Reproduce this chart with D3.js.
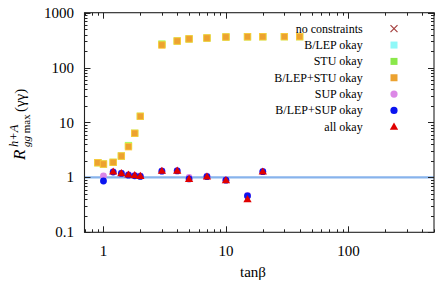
<!DOCTYPE html>
<html><head><meta charset="utf-8">
<script src="https://cdn.jsdelivr.net/npm/d3@7"></script>
<style>body{margin:0;background:#fff}svg{display:block}</style>
</head><body><svg id="c" width="435" height="282" font-family="'Liberation Serif', 'DejaVu Serif', serif"></svg>
<script>
// ---- data ----
const tanB = [0.9, 1, 1.2, 1.4, 1.6, 1.8, 2, 3, 4, 5, 7, 10, 15, 20, 30, 40];
const blepStu = [1.85, 1.75, 1.88, 2.45, 3.62, 6.36, 12.97, 258, 305, 333, 346, 361, 364, 365, 366, 366];
const stu = [1.85, 1.75, 1.88, 2.45, 3.8, 6.36, 12.97, 268, 305, 333, 346, 361, 364, 365, 366, 366];
const tanBSup = [1, 1.2, 1.4, 1.6, 1.8, 2, 3, 4, 5, 7, 10, 15, 20];
const sup = [1.06, 1.27, 1.2, 1.12, 1.09, 1.06, 1.32, 1.33, 1.0, 1.05, 0.9, 0.47, 1.28];
const blepSup = [0.86, 1.25, 1.18, 1.1, 1.07, 1.04, 1.3, 1.31, 0.94, 1.03, 0.89, 0.46, 1.27];
const tanBAll = [1.2, 1.4, 1.6, 1.8, 2, 3, 4, 5, 7, 10, 15, 20];
const allOk = [1.27, 1.19, 1.12, 1.09, 1.06, 1.31, 1.32, 0.935, 1.03, 0.886, 0.40, 1.27];
const refLine = 1;
const xTickLabels = [1, 10, 100];
const yTickLabels = [0.1, 1, 10, 100, 1000];
const legendLabels = ["no constraints", "B/LEP okay", "STU okay", "B/LEP+STU okay", "SUP okay", "B/LEP+SUP okay", "all okay"];

// ---- layout ----
const svg = d3.select("#c");
const L = 84.5, R = 434, T = 12.7, B = 232.3;
const x = d3.scaleLog().domain([0.7, 500]).range([L, R]);
const y = d3.scaleLog().domain([0.1, 1000]).range([B, T]);

const colors = {nc: "#a5403f", blep: "#8ff8f8", stu: "#8ae84a", blepStu: "#eca230", sup: "#dc88e6", blepSup: "#0a14f0", all: "#e00000"};

const xMinor = [];
[0.1, 1, 10, 100].forEach(d => { for (let k = 1; k <= 9; k++) { const v = d * k; if (v >= 0.7 && v <= 500) xMinor.push(v); } });
const yMinor = [];
[0.1, 1, 10, 100].forEach(d => { for (let k = 2; k <= 9; k++) yMinor.push(d * k); });

const g = svg.append("g");
g.append("line").attr("x1", L).attr("x2", R).attr("y1", y(refLine)).attr("y2", y(refLine))
  .attr("stroke", "#87b3ec").attr("stroke-width", 2.2);

function axisTicks() {
  const tk = svg.append("g").attr("stroke", "#222").attr("stroke-width", 1);
  xMinor.forEach(v => {
    const major = xTickLabels.includes(v);
    const len = major ? 6 : 3;
    const px = Math.round(x(v)) + 0.5;
    tk.append("line").attr("x1", px).attr("x2", px).attr("y1", B).attr("y2", B - len);
    tk.append("line").attr("x1", px).attr("x2", px).attr("y1", T).attr("y2", T + len);
  });
  yTickLabels.concat(yMinor).forEach(v => {
    const major = yTickLabels.includes(v);
    const len = major ? 6 : 3;
    const py = Math.round(y(v)) + 0.5;
    tk.append("line").attr("x1", L).attr("x2", L + len).attr("y1", py).attr("y2", py);
    tk.append("line").attr("x1", R).attr("x2", R - len).attr("y1", py).attr("y2", py);
  });
  svg.append("rect").attr("x", L).attr("y", T).attr("width", R - L).attr("height", B - T)
    .attr("fill", "none").attr("stroke", "#222").attr("stroke-width", 1.1);
}

svg.selectAll(".xl").data(xTickLabels).enter().append("text")
  .attr("x", d => x(d)).attr("y", 256).attr("text-anchor", "middle").attr("font-size", 15).text(d => d);
svg.selectAll(".yl").data(yTickLabels).enter().append("text")
  .attr("x", 74).attr("y", d => y(d) + 5).attr("text-anchor", "end").attr("font-size", 15).text(d => d);

svg.append("text").attr("x", 253).attr("y", 277).attr("text-anchor", "middle").attr("font-size", 15).text("tanβ");

const yt = svg.append("g").attr("transform", "translate(25,0) rotate(-90)");
yt.append("text").attr("x", -160).attr("y", 0).attr("font-size", 17).attr("font-style", "italic").text("R");
yt.append("text").attr("x", -147).attr("y", -7).attr("font-size", 12.5).attr("font-style", "italic").text("h+A");
yt.append("text").attr("x", -147).attr("y", 5).attr("font-size", 11)
  .html('<tspan font-style="italic">gg</tspan> max');
yt.append("text").attr("x", -112).attr("y", 0).attr("font-size", 15).text("(γγ)");

function squares(xs, vs, col, s) {
  g.selectAll(null).data(xs.map((d, i) => [d, vs[i]])).enter().append("rect")
    .attr("x", d => x(d[0]) - s / 2).attr("y", d => y(d[1]) - s / 2).attr("width", s).attr("height", s)
    .attr("fill", col).attr("stroke", d3.color(col).brighter(0.6)).attr("stroke-width", 0.8);
}
function circles(xs, vs, col, r) {
  g.selectAll(null).data(xs.map((d, i) => [d, vs[i]])).enter().append("circle")
    .attr("cx", d => x(d[0])).attr("cy", d => y(d[1])).attr("r", r).attr("fill", col);
}
const tri = d3.symbol().type(d3.symbolTriangle).size(30);
function triangles(xs, vs, col) {
  g.selectAll(null).data(xs.map((d, i) => [d, vs[i]])).enter().append("path")
    .attr("d", tri).attr("transform", d => `translate(${x(d[0])},${y(d[1]) + 0.5})`).attr("fill", col);
}
squares(tanB, stu, colors.stu, 6.5);
squares(tanB, blepStu, colors.blepStu, 6.5);
circles(tanBSup, sup, colors.sup, 3.4);
circles(tanBSup, blepSup, colors.blepSup, 3.4);
triangles(tanBAll, allOk, colors.all);

axisTicks();

const lx = 362.7, sx = 394, ly0 = 28.7, dy = 16.35;
legendLabels.forEach((t, i) => {
  const cy = ly0 + i * dy;
  svg.append("text").attr("x", lx).attr("y", cy + 4).attr("text-anchor", "end").attr("font-size", 12).text(t);
  if (i === 0) {
    svg.append("path").attr("d", `M${sx-3.5},${cy-3.5}L${sx+3.5},${cy+3.5}M${sx-3.5},${cy+3.5}L${sx+3.5},${cy-3.5}`)
      .attr("stroke", colors.nc).attr("stroke-width", 1.2);
  } else if (i <= 3) {
    const c = [colors.blep, colors.stu, colors.blepStu][i - 1];
    svg.append("rect").attr("x", sx - 3.5).attr("y", cy - 3.5).attr("width", 7).attr("height", 7).attr("fill", c);
  } else if (i <= 5) {
    svg.append("circle").attr("cx", sx).attr("cy", cy).attr("r", 3.6).attr("fill", i === 4 ? colors.sup : colors.blepSup);
  } else {
    svg.append("path").attr("d", tri).attr("transform", `translate(${sx},${cy + 0.5})`).attr("fill", colors.all);
  }
});
</script></body></html>
